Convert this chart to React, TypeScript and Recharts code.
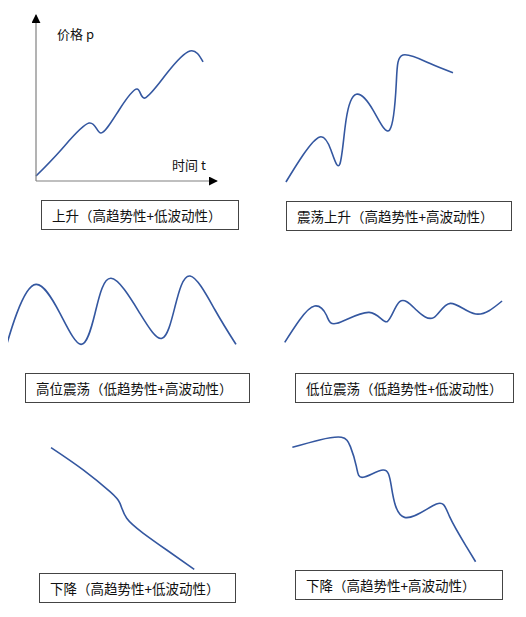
import { LineChart, Line, XAxis, YAxis } from 'recharts'

// time (0-100) and price (0-100) for each pattern sketch
const riseT = [0, 13.8, 29.3, 35.9, 45.9, 55.8, 60.2, 72.4, 85.1, 92.3]
const riseP = [3, 18.7, 34.9, 28.9, 42.8, 55.4, 50, 65, 78.3, 71.7]

const swingUpT = [3.3, 12.8, 22.2, 28.3, 33.2, 36.7, 42.4, 51.7, 60.9, 64.6, 68.3, 83.1, 96.1]
const swingUpP = [5.7, 25, 37.9, 28.6, 18.4, 50, 68.4, 57.1, 42.9, 76.2, 96.4, 90.5, 83.8]

const highRangeT = [2.5, 7, 15, 25, 33.75, 39.6, 46.25, 58.3, 67.5, 72.9, 79.2, 89.6, 98.3]
const highRangeP = [3.75, 45.8, 82, 45.8, 7, 46, 89.6, 45.8, 14.6, 54, 92.5, 50, 7.1]

const lowRangeT = [2.1, 8.7, 15.4, 20.6, 25.3, 39.6, 47.6, 53.2, 60.6, 68.3, 75.7, 87, 98.7]
const lowRangeP = [5.3, 50, 78, 60, 43.3, 65.3, 46.7, 86.7, 70, 54.7, 83.3, 62, 88]

const fallT = [6.9, 27, 43.75, 50, 54.2, 64.6, 79.2, 96.4]
const fallP = [94.3, 77.8, 61.7, 53.1, 42, 30.9, 18.5, 4.2]

const swingDownT = [3.7, 17.3, 28.2, 32.7, 35.7, 39, 49, 53.2, 59.8, 75.7, 82.3, 90.7, 95.3]
const swingDownP = [87.6, 92.9, 94.8, 88.1, 73.8, 66.2, 71.4, 59.5, 37.6, 47.1, 38.1, 16.7, 5.9]

const captions = [
  '上升（高趋势性+低波动性）',
  '震荡上升（高趋势性+高波动性）',
  '高位震荡（低趋势性+高波动性）',
  '低位震荡（低趋势性+低波动性）',
  '下降（高趋势性+低波动性）',
  '下降（高趋势性+高波动性）',
]

const axisLabels = ['价格 p', '时间 t']

const LINE = '#3457a0'
const FONT = '"Noto Sans CJK SC", "Noto Sans", sans-serif'

const toRows = (t: number[], p: number[]) => t.map((v, i) => ({ t: v, p: p[i] }))

type SketchProps = {
  t: number[]
  p: number[]
  left: number
  top: number
  width: number
  height: number
  axes?: boolean
}

const Sketch = ({ t, p, left, top, width, height, axes }: SketchProps) => {
  const pad = axes ? 12 : 4
  return (
    <div style={{ position: 'absolute', left: left - pad - (axes ? 1 : 0), top: top - pad }}>
      <LineChart
        width={width + pad * 2 + (axes ? 2 : 0)}
        height={height + pad * 2 + (axes ? 2 : 0)}
        data={toRows(t, p)}
        margin={{ top: pad, right: pad, bottom: pad, left: pad }}
      >
        <defs>
          <marker
            id="arrow"
            viewBox="0 0 10 10"
            refX="9"
            refY="5"
            markerWidth="9"
            markerHeight="9"
            markerUnits="userSpaceOnUse"
            orient="auto-start-reverse"
          >
            <path d="M0,0 L10,5 L0,10 z" fill="#000" />
          </marker>
        </defs>
        <XAxis
          type="number"
          dataKey="t"
          domain={[0, 100]}
          hide={!axes}
          height={2}
          tick={false}
          tickLine={false}
          axisLine={{ stroke: '#808080', strokeWidth: 1.2, markerEnd: 'url(#arrow)' }}
        />
        <YAxis
          type="number"
          dataKey="p"
          domain={[0, 100]}
          hide={!axes}
          width={2}
          tick={false}
          tickLine={false}
          axisLine={{ stroke: '#808080', strokeWidth: 1.2, markerStart: 'url(#arrow)' }}
        />
        <Line
          type="natural"
          dataKey="p"
          stroke={LINE}
          strokeWidth={1.6}
          dot={false}
          isAnimationActive={false}
        />
      </LineChart>
    </div>
  )
}

const Caption = ({ text, left, top, width }: { text: string; left: number; top: number; width: number }) => (
  <div
    style={{
      position: 'absolute',
      left,
      top,
      width,
      height: 30,
      boxSizing: 'border-box',
      border: '1px solid #444',
      paddingLeft: 10,
      fontFamily: FONT,
      fontSize: 13.5,
      lineHeight: '28px',
      color: '#111',
      whiteSpace: 'nowrap',
      background: '#fff',
    }}
  >
    {text}
  </div>
)

export default function App() {
  return (
    <div style={{ position: 'relative', width: 526, height: 617, margin: -8, background: '#fff', overflow: 'hidden' }}>
      <Sketch t={riseT} p={riseP} left={35} top={15} width={181} height={166} axes />
      <div style={{ position: 'absolute', left: 57, top: 24, fontFamily: FONT, fontSize: 13, color: '#111' }}>
        {axisLabels[0]}
      </div>
      <div style={{ position: 'absolute', left: 172, top: 155, fontFamily: FONT, fontSize: 13, color: '#111' }}>
        {axisLabels[1]}
      </div>
      <Sketch t={swingUpT} p={swingUpP} left={280} top={50} width={180} height={140} />
      <Sketch t={highRangeT} p={highRangeP} left={0} top={270} width={240} height={80} />
      <Sketch t={lowRangeT} p={lowRangeP} left={280} top={295} width={225} height={50} />
      <Sketch t={fallT} p={fallP} left={40} top={440} width={160} height={135} />
      <Sketch t={swingDownT} p={swingDownP} left={285} top={430} width={200} height={140} />

      <Caption text={captions[0]} left={41} top={200} width={198} />
      <Caption text={captions[1]} left={286} top={201} width={226} />
      <Caption text={captions[2]} left={25} top={373} width={225} />
      <Caption text={captions[3]} left={295} top={373} width={219} />
      <Caption text={captions[4]} left={39} top={573} width={197} />
      <Caption text={captions[5]} left={295} top={570} width={208} />
    </div>
  )
}
